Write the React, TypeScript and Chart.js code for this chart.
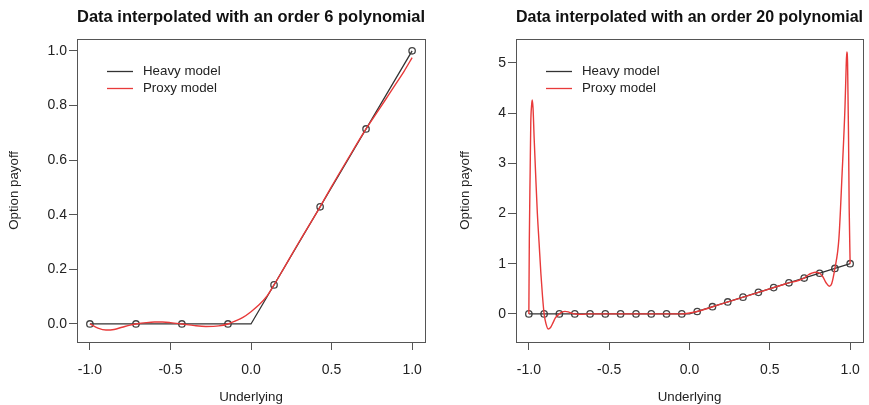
import React, { useEffect, useRef } from "react";
import { Chart, registerables } from "chart.js";
Chart.register(...registerables);

const LEFT_TITLE = "Data interpolated with an order 6 polynomial";
const RIGHT_TITLE = "Data interpolated with an order 20 polynomial";
const X_LABEL = "Underlying";
const Y_LABEL = "Option payoff";
const HEAVY_LABEL = "Heavy model";
const PROXY_LABEL = "Proxy model";

const X_TICKS = [-1, -0.5, 0, 0.5, 1];
const LEFT_Y_TICKS = [0, 0.2, 0.4, 0.6, 0.8, 1.0];
const RIGHT_Y_TICKS = [0, 1, 2, 3, 4, 5];

const HEAVY_X = [-1, 0, 1];
const HEAVY_Y = [0, 0, 1];

const LEFT_SAMPLE_X = [-1, -0.714, -0.429, -0.143, 0.143, 0.429, 0.714, 1];
const LEFT_SAMPLE_Y = [0, 0, 0, 0, 0.143, 0.429, 0.714, 1];

const LEFT_PROXY_X = [-1, -0.95, -0.9, -0.85, -0.8, -0.75, -0.714, -0.65, -0.6, -0.55, -0.5, -0.429, -0.35, -0.28, -0.2, -0.143, -0.1, -0.05, 0, 0.05, 0.1, 0.143, 0.2, 0.3, 0.429, 0.5, 0.6, 0.714, 0.8, 0.85, 0.9, 0.95, 1];
const LEFT_PROXY_Y = [0, -0.015, -0.022, -0.02, -0.012, -0.004, 0, 0.005, 0.007, 0.007, 0.005, 0, -0.006, -0.009, -0.007, 0, 0.01, 0.024, 0.045, 0.07, 0.103, 0.143, 0.2, 0.302, 0.429, 0.503, 0.603, 0.714, 0.79, 0.835, 0.88, 0.925, 0.975];

const RIGHT_SAMPLE_X = [-1, -0.905, -0.81, -0.714, -0.619, -0.524, -0.429, -0.333, -0.238, -0.143, -0.048, 0.048, 0.143, 0.238, 0.333, 0.429, 0.524, 0.619, 0.714, 0.81, 0.905, 1];
const RIGHT_SAMPLE_Y = [0, 0, 0, 0, 0, 0, 0, 0, 0, 0, 0, 0.048, 0.143, 0.238, 0.333, 0.429, 0.524, 0.619, 0.714, 0.81, 0.905, 1];

const RIGHT_PROXY_X = [-1, -0.997, -0.992, -0.988, -0.983, -0.979, -0.974, -0.967, -0.958, -0.947, -0.936, -0.925, -0.915, -0.905, -0.893, -0.88, -0.865, -0.85, -0.835, -0.81, -0.79, -0.775, -0.755, -0.735, -0.714, -0.68, -0.62, -0.5, -0.3, -0.048, 0.048, 0.2, 0.4, 0.6, 0.714, 0.74, 0.76, 0.785, 0.81, 0.83, 0.85, 0.87, 0.885, 0.905, 0.93, 0.95, 0.968, 0.975, 0.979, 0.984, 0.99, 0.994, 1];
const RIGHT_PROXY_Y = [0, 1.5, 2.8, 3.8, 4.15, 4.26, 4.1, 3.5, 2.8, 2.0, 1.4, 0.8, 0.35, 0, -0.2, -0.3, -0.27, -0.18, -0.08, 0, 0.04, 0.05, 0.04, 0.015, 0, -0.01, 0, 0, 0, 0, 0.048, 0.2, 0.4, 0.6, 0.714, 0.78, 0.81, 0.83, 0.81, 0.74, 0.62, 0.55, 0.6, 0.905, 1.5, 2.8, 4.13, 4.9, 5.22, 5.0, 3.5, 2.1, 1.0];

const FONT = "'Liberation Sans', Arial, sans-serif";
const RED = "rgb(232,58,58)";
const DARK = "#333";

const pts = (xs: number[], ys: number[]) => xs.map((x, i) => ({ x, y: ys[i] }));

const boxPlugin = {
  id: "rbox",
  beforeDatasetsDraw(chart: any) {
    const { ctx, chartArea: a } = chart;
    ctx.save();
    ctx.strokeStyle = "#555";
    ctx.lineWidth = 1;
    ctx.strokeRect(Math.round(a.left) + 0.5, Math.round(a.top) + 0.5, Math.round(a.right - a.left), Math.round(a.bottom - a.top));
    ctx.restore();
  },
};

const legendPlugin = {
  id: "rlegend",
  afterDraw(chart: any) {
    const { ctx, chartArea: a } = chart;
    const items = chart.data.datasets.filter((d: any) => d.label === HEAVY_LABEL || d.label === PROXY_LABEL);
    items.sort((p: any) => (p.label === HEAVY_LABEL ? -1 : 1));
    ctx.save();
    ctx.font = `13.3px ${FONT}`;
    ctx.textBaseline = "middle";
    ctx.textAlign = "left";
    items.forEach((d: any, i: number) => {
      const y = 71 + i * 17;
      const x0 = a.left + 30;
      ctx.strokeStyle = d.borderColor;
      ctx.lineWidth = 1.3;
      ctx.beginPath();
      ctx.moveTo(x0, y + 0.5);
      ctx.lineTo(x0 + 26, y + 0.5);
      ctx.stroke();
      ctx.fillStyle = "#222";
      ctx.fillText(d.label, x0 + 36, y);
    });
    ctx.restore();
  },
};

function makeConfig(p: {
  title: string;
  proxy: { x: number; y: number }[];
  samples: { x: number; y: number }[];
  yTicks: number[];
  yMin: number;
  yMax: number;
  yDecimals: number;
  yWidth: number;
  yTitlePad: number;
  rightPad: number;
}): any {
  return {
    type: "scatter",
    data: {
      datasets: [
        {
          label: PROXY_LABEL,
          data: p.proxy,
          showLine: true,
          borderColor: RED,
          borderWidth: 1.4,
          pointRadius: 0,
          cubicInterpolationMode: "monotone",
        },
        {
          label: HEAVY_LABEL,
          data: pts(HEAVY_X, HEAVY_Y),
          showLine: true,
          borderColor: DARK,
          borderWidth: 1.3,
          pointRadius: 0,
        },
        {
          label: "samples",
          data: p.samples,
          showLine: false,
          pointRadius: 3.2,
          pointBorderWidth: 1.3,
          pointBorderColor: "#444",
          pointBackgroundColor: "rgba(0,0,0,0)",
        },
      ],
    },
    options: {
      responsive: false,
      animation: false,
      devicePixelRatio: 1,
      layout: { autoPadding: false, padding: { left: 0, right: p.rightPad, top: 0, bottom: 0 } },
      plugins: {
        legend: { display: false },
        tooltip: { enabled: false },
        title: {
          display: true,
          fullSize: false,
          text: p.title,
          color: "#111",
          font: { family: FONT, size: 16.5, weight: "bold" },
          padding: { top: 8, bottom: 11 },
        },
      },
      scales: {
        x: {
          type: "linear",
          min: -1.08,
          max: 1.08,
          afterBuildTicks: (s: any) => {
            s.ticks = X_TICKS.map((v) => ({ value: v }));
          },
          afterFit: (s: any) => {
            s.height = 63;
            s.paddingLeft = 0;
            s.paddingRight = 0;
          },
          grid: { drawOnChartArea: false, drawTicks: true, tickLength: 8, color: "#555" },
          border: { display: false },
          ticks: {
            autoSkip: false,
            maxRotation: 0,
            padding: 12,
            color: "#222",
            font: { family: FONT, size: 14 },
            callback: (v: any) => Number(v).toFixed(1),
          },
          title: {
            display: true,
            text: X_LABEL,
            color: "#222",
            font: { family: FONT, size: 13.3 },
            padding: { top: 0, bottom: 0 },
          },
        },
        y: {
          type: "linear",
          min: p.yMin,
          max: p.yMax,
          afterBuildTicks: (s: any) => {
            s.ticks = p.yTicks.map((v) => ({ value: v }));
          },
          afterFit: (s: any) => {
            s.width = p.yWidth;
            s.paddingTop = 0;
            s.paddingBottom = 0;
          },
          grid: { drawOnChartArea: false, drawTicks: true, tickLength: 8, color: "#555" },
          border: { display: false },
          ticks: {
            autoSkip: false,
            padding: 2,
            color: "#222",
            font: { family: FONT, size: 14 },
            callback: (v: any) => Number(v).toFixed(p.yDecimals),
          },
          title: {
            display: true,
            text: Y_LABEL,
            color: "#222",
            font: { family: FONT, size: 13.3 },
            padding: { top: p.yTitlePad, bottom: 0 },
          },
        },
      },
    },
    plugins: [boxPlugin, legendPlugin],
  };
}

function Panel(props: { cfg: any; left: number; width: number }) {
  const ref = useRef<HTMLCanvasElement | null>(null);
  useEffect(() => {
    if (!ref.current) return;
    const chart = new Chart(ref.current, props.cfg);
    return () => chart.destroy();
  }, []);
  return (
    <div style={{ position: "absolute", left: props.left, top: 0, width: props.width, height: 405 }}>
      <canvas ref={ref} width={props.width} height={405} style={{ width: props.width, height: 405, display: "block" }} />
    </div>
  );
}

export default function App() {
  const leftCfg = makeConfig({
    title: LEFT_TITLE,
    proxy: pts(LEFT_PROXY_X, LEFT_PROXY_Y),
    samples: pts(LEFT_SAMPLE_X, LEFT_SAMPLE_Y),
    yTicks: LEFT_Y_TICKS,
    yMin: -0.066,
    yMax: 1.044,
    yDecimals: 1,
    yWidth: 77,
    yTitlePad: 6,
    rightPad: 10,
  });
  const rightCfg = makeConfig({
    title: RIGHT_TITLE,
    proxy: pts(RIGHT_PROXY_X, RIGHT_PROXY_Y),
    samples: pts(RIGHT_SAMPLE_X, RIGHT_SAMPLE_Y),
    yTicks: RIGHT_Y_TICKS,
    yMin: -0.56,
    yMax: 5.48,
    yDecimals: 0,
    yWidth: 81,
    yTitlePad: 22,
    rightPad: 6,
  });
  return (
    <div style={{ position: "absolute", left: 0, top: 0, width: 869, height: 405, background: "#fff" }}>
      <Panel cfg={leftCfg} left={0} width={435} />
      <Panel cfg={rightCfg} left={435} width={434} />
    </div>
  );
}
